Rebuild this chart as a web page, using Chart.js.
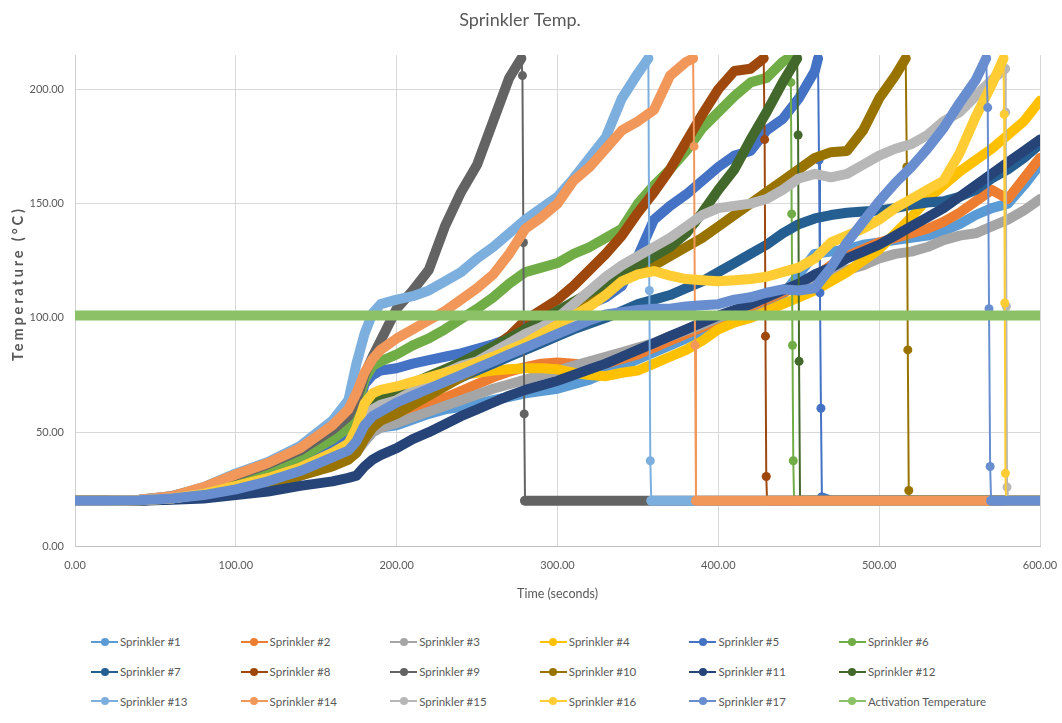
<!DOCTYPE html>
<html>
<head>
<meta charset="utf-8">
<title>Sprinkler Temp.</title>
<script src="https://cdn.jsdelivr.net/npm/chart.js@4.4.1/dist/chart.umd.min.js"></script>
<style>
  html, body { margin: 0; padding: 0; background: #ffffff; }
  #frame { position: relative; width: 1062px; height: 723px; overflow: hidden; }
  #chart { position: absolute; left: 0; top: 0; }
  #legend { position: absolute; left: 91px; top: 627px; display: grid;
            grid-template-columns: repeat(6, 149.6px); grid-auto-rows: 29.7px; }
  .key { display: flex; align-items: center; font: 11.5px Lato, 'Open Sans', sans-serif;
         color: #595959; white-space: nowrap; }
  .swatch { position: relative; width: 27px; height: 10px; margin-right: 2px; flex: none; }
  .swatch .ln { position: absolute; left: 0; right: 0; top: 4px; height: 2px; }
  .swatch .dot { position: absolute; left: 9.5px; top: 1px; width: 8px; height: 8px; border-radius: 50%; }
</style>
</head>
<body>
<div id="frame">
  <canvas id="chart" width="1062" height="612"></canvas>
  <div id="legend"></div>
</div>
<script>
// Sample times (s) shared by every sprinkler trace
const TIME = [0, 20, 40, 60, 80, 100, 120, 140, 160, 170, 175, 180, 185, 190,
  200, 210, 220, 230, 240, 250, 260, 270, 280, 290,
  300, 310, 320, 330, 340, 350, 360, 370, 380, 390,
  400, 410, 420, 430, 440, 450, 460, 470, 480, 490,
  500, 510, 520, 530, 540, 550, 560, 570, 580, 590, 600];

// Temperatures (°C) at each sample time; null = inside the activation drop
const s1 = [20, 20, 20.1, 20.8, 22.3, 24.5, 27.5, 31.5, 36, 39, 42, 46, 50, 52,
  53, 55.5, 58, 60, 61, 62.5, 64, 65.5, 67, 68,
  69, 71, 73, 76, 79, 82, 85, 88, 91, 94,
  97, 100, 103, 106, 110, 119, 128, 129, 130, 132,
  133, 134, 135, 136, 138, 141, 145, 148, 150, 158, 167];
const s2 = [20, 20, 20.1, 20.8, 22.3, 24.5, 27.5, 31.5, 36, 39, 43, 48, 52, 54,
  56, 59, 62, 65, 68, 71, 74, 76.5, 78.5, 80,
  80.5, 80, 79, 80, 82, 84, 87, 90, 93, 96,
  99, 102, 105, 108, 111, 114, 118, 123, 127, 130,
  133, 135, 137, 139, 142, 146, 151, 156, 152, 161, 170];
const s3 = [20, 20, 20.1, 20.8, 22.2, 24.3, 27, 31, 35.5, 38.5, 41, 46, 50, 52,
  54, 56.5, 59, 61.5, 64, 66.5, 69, 71, 73, 75,
  77, 79, 81, 83, 85, 87, 89, 92, 94.5, 97,
  100, 103, 106, 109, 112, 115, 117, 119, 121, 123,
  126, 128, 129, 131, 134, 136, 137, 140, 143, 147, 152];
const s4 = [20, 20, 20.2, 21, 23, 26.5, 30, 34.5, 41, 45, 52, 62, 66, 67.5,
  69, 70.5, 72, 73.5, 75, 76, 77, 77.5, 78, 78,
  77.5, 76, 75, 74.5, 76, 77, 80, 83, 86, 90,
  95, 98, 100, 103, 106, 109, 112, 116, 120, 125,
  130, 137, 144, 152, 158, 164, 169, 174, 180, 186, 195];
const s5 = [20, 20, 20.2, 21, 23.5, 27, 31, 36, 43, 47, 57, 71, 75, 77,
  78, 80, 81.5, 83, 84.5, 86.5, 88.5, 91, 94, 97,
  100, 103, 106, 109, 114, 127, 143, 149, 154, 160,
  166, 171, 173, 182, 187, 196, 208, 20, 20, 20,
  20, 20, 20, 20, 20, 20, 20, 20, 20, 20, 20];
const s6 = [20, 20, 20.3, 21.5, 24.5, 29, 33.5, 39, 47, 52, 60, 73, 79, 81,
  84, 88, 91, 95, 99.5, 104, 109, 115, 120, 122,
  124, 128, 131, 135, 139, 150, 158, 165, 173, 183,
  190, 197, 203, 205, 212, 20, 20, 20, 20, 20,
  20, 20, 20, 20, 20, 20, 20, 20, 20, 20, 20];
const s7 = [20, 20, 20.2, 21, 22.8, 26, 29, 33, 39, 42, 47, 55, 59, 61,
  62, 65, 68, 71, 74, 77, 80, 83, 86, 89,
  92, 95, 97.5, 100, 103, 106, 108, 110, 113, 116,
  120, 124, 128, 132, 137, 141, 143.5, 145, 146, 146.5,
  147, 148, 149.5, 150.5, 151, 153, 156, 161, 165, 170, 176];
const s8 = [20, 20, 20.2, 21, 23, 26, 29.5, 34, 40, 43, 49, 57, 61, 63,
  66, 69, 72, 75, 79, 83, 87, 92, 99, 103.5,
  108, 114, 121, 128, 136, 146, 155, 165, 177, 189,
  200, 208, 209, null, 20, 20, 20, 20, 20, 20,
  20, 20, 20, 20, 20, 20, 20, 20, 20, 20, 20];
const s9 = [20, 20, 20.5, 22, 25.5, 31, 36, 42, 51, 57, 64, 75, 83, 90,
  104, 112, 121, 140, 155, 167, 186, 205, 20, 20,
  20, 20, 20, 20, 20, 20, 20, 20, 20, 20,
  20, 20, 20, 20, 20, 20, 20, 20, 20, 20,
  20, 20, 20, 20, 20, 20, 20, 20, 20, 20, 20];
const s10 = [20, 20, 20.1, 20.8, 22, 24, 27, 31, 35, 38, 41, 47, 52, 55,
  58, 62, 66, 70, 74, 78, 82, 87, 91, 95,
  100, 104, 108, 112, 117, 120, 123, 127, 131, 135,
  140, 145, 150, 155, 160, 165, 170, 172.5, 173, 182,
  196, 206, 20, 20, 20, 20, 20, 20, 20, 20, 20];
const s11 = [20, 20, 20, 20.5, 21, 22.5, 24, 26.5, 28.5, 30, 31, 35, 38, 40,
  43, 47, 50, 53.5, 57, 60, 63, 66, 68.5, 70.5,
  72.5, 75, 77.5, 80, 83, 86, 89, 92, 95, 98,
  101, 103.5, 106, 109, 112, 115, 119, 122, 126, 129,
  132, 136, 140, 144, 148, 153, 158, 163, 168, 173, 178];
const s12 = [20, 20, 20.2, 21, 23, 26.5, 30, 34.5, 40.5, 44, 51, 60, 64, 66,
  68.5, 71.5, 74.5, 77.5, 80.5, 84, 87.5, 91, 95, 99,
  103, 107, 111, 115, 119, 123, 127, 131, 137, 146,
  156, 165, 178, 190, 203, null, 20, 20, 20, 20,
  20, 20, 20, 20, 20, 20, 20, 20, 20, 20, 20];
const s13 = [20, 20, 20.5, 22, 26, 32, 37, 44, 55, 64, 80, 93, 102, 106,
  108, 109.5, 112, 116, 120, 126, 131, 137, 143, 148,
  153, 161, 170, 179, 196, 207, 20, 20, 20, 20,
  20, 20, 20, 20, 20, 20, 20, 20, 20, 20,
  20, 20, 20, 20, 20, 20, 20, 20, 20, 20, 20];
const s14 = [20, 20, 20.5, 22, 26, 31.5, 36.5, 43, 53, 60, 67, 76, 82, 86,
  91, 95, 99, 103, 108, 113, 119, 128, 139, 144,
  150, 160, 166, 174, 182, 186, 191, 206, 212, 20,
  20, 20, 20, 20, 20, 20, 20, 20, 20, 20,
  20, 20, 20, 20, 20, 20, 20, 20, 20, 20, 20];
const s15 = [20, 20, 20.2, 21, 23, 26, 29.5, 34, 39.5, 43, 48, 56, 60, 62,
  64, 68, 72, 76, 79, 81, 85, 89, 93, 96,
  100, 106, 112, 118, 123, 127, 131, 135, 140, 145,
  148, 149, 150, 152, 156, 161, 163, 161.5, 163, 167,
  171, 174, 176, 180, 186, 190, 197, 204, 20, 20, 20];
const s16 = [20, 20, 20.2, 21, 23, 26.5, 30, 34.5, 41, 45, 52, 62.5, 67, 68.5,
  70, 72, 74, 76, 78, 80.5, 83, 86, 89, 93,
  97, 101, 105, 110, 116, 119, 120.5, 118.5, 117, 116.5,
  116, 116.5, 117, 118, 120, 122, 126, 133, 136, 139,
  143, 148, 152, 156, 160, 172, 188, 202, 20, 20, 20];
const s17 = [20, 20, 20.2, 21, 22.5, 25, 28.5, 33, 39, 42, 46, 53, 57, 59,
  63, 66, 69, 72, 75, 78, 81, 84, 87, 90,
  93, 96, 99, 101.5, 102.5, 103.5, 104, 104, 105, 105.5,
  106, 108, 109, 111, 112.5, 112, 113, 122, 133, 142,
  151, 159, 166, 174, 183, 194, 204, 20, 20, 20, 20];

// Activation drops: [time, temperature] readings from peak down to ambient
const d5 = [[462, 213.5], [462.6, 169], [463.2, 111], [463.8, 60.5], [464.4, 21.5]];
const d6 = [[444.5, 214], [445.1, 203], [445.6, 145.5], [446.1, 88], [446.6, 37.5], [447.1, 20]];
const d8 = [[428.2, 213.5], [428.8, 178], [429.3, 92], [429.8, 30.6], [430.3, 20]];
const d9 = [[277.5, 213.5], [278.2, 206], [278.8, 133], [279.3, 58], [279.8, 20]];
const d10 = [[516.5, 213.5], [517.2, 166], [517.8, 86], [518.4, 24.5], [519, 20]];
const d12 = [[449, 213.5], [449.6, 180], [450.2, 81], [450.8, 20]];
const d13 = [[356.5, 213.5], [357.1, 112], [357.7, 37.5], [358.3, 20]];
const d14 = [[384.3, 213.5], [384.9, 175], [385.5, 88], [386.1, 20]];
const d15 = [[578.3, 209], [578.7, 190], [579.1, 105], [579.5, 26], [579.9, 20]];
const d16 = [[577.3, 213.5], [577.7, 189], [578.1, 106.5], [578.5, 32], [578.9, 20]];
const d17 = [[566.5, 213.5], [567.5, 192], [568.3, 104], [569, 35], [569.6, 20]];

// Activation threshold line
const ACT_TIME = [0, 600];
const ACT_TEMP = [101, 101];

// Axis ticks
const X_TICKS = [0, 100, 200, 300, 400, 500, 600];
const Y_TICKS = [0, 50, 100, 150, 200];

const NAMES = ['Sprinkler #1', 'Sprinkler #2', 'Sprinkler #3', 'Sprinkler #4', 'Sprinkler #5',
  'Sprinkler #6', 'Sprinkler #7', 'Sprinkler #8', 'Sprinkler #9', 'Sprinkler #10',
  'Sprinkler #11', 'Sprinkler #12', 'Sprinkler #13', 'Sprinkler #14', 'Sprinkler #15',
  'Sprinkler #16', 'Sprinkler #17', 'Activation Temperature'];
const SERIES = [s1, s2, s3, s4, s5, s6, s7, s8, s9, s10, s11, s12, s13, s14, s15, s16, s17];
const DROPS = [null, null, null, null, d5, d6, null, d8, d9, d10, null, d12, d13, d14, d15, d16, d17];

const COLORS = ['#5B9BD5', '#ED7D31', '#A5A5A5', '#FFC000', '#4472C4', '#70AD47',
  '#255E91', '#9E480E', '#636363', '#997300', '#264478', '#43682B',
  '#7CAFDD', '#F1975A', '#B7B7B7', '#FFCD33', '#698ED0', '#8CC168'];

const FONT = "Lato, 'Open Sans', sans-serif";
const TEXT = '#595959';
const THICK = 10, THIN = 2;
const Y_TITLE = 'Temperature (°C)';

function toPoints(vals, drop) {
  const pts = [];
  TIME.forEach((t, i) => { if (vals[i] !== null) pts.push({ x: t, y: vals[i] }); });
  (drop || []).forEach(([t, v]) => pts.push({ x: t, y: v, marker: true }));
  return pts.sort((a, b) => a.x - b.x);
}

// thin stroke for the near-vertical fall after a sprinkler activates
const segWidth = c => (c.p1.parsed.x - c.p0.parsed.x < 1.5 &&
  Math.abs(c.p1.parsed.y - c.p0.parsed.y) > 2) ? THIN : THICK;

const datasets = SERIES.map((vals, i) => ({
  label: NAMES[i],
  data: toPoints(vals, DROPS[i]),
  borderColor: COLORS[i],
  backgroundColor: COLORS[i],
  borderWidth: THICK,
  borderCapStyle: 'round',
  borderJoinStyle: 'round',
  pointRadius: c => (c.raw && c.raw.marker) ? 4.5 : 0,
  pointBackgroundColor: COLORS[i],
  pointBorderWidth: 0,
  pointHoverRadius: 0,
  segment: { borderWidth: segWidth },
  fill: false,
  tension: 0,
  order: SERIES.length - i
}));
datasets.push({
  label: NAMES[17],
  data: ACT_TIME.map((t, i) => ({ x: t, y: ACT_TEMP[i] })),
  borderColor: COLORS[17],
  backgroundColor: COLORS[17],
  borderWidth: THICK,
  borderCapStyle: 'round',
  pointRadius: 0,
  fill: false,
  order: 0
});

// Vertical axis title, spread along the left edge of the plot
const yTitle = {
  id: 'yTitle',
  afterDraw(chart) {
    const ctx = chart.ctx;
    ctx.save();
    ctx.translate(18, 285);
    ctx.rotate(-Math.PI / 2);
    ctx.font = `bold 14.5px ${FONT}`;
    ctx.fillStyle = TEXT;
    ctx.textAlign = 'center';
    ctx.textBaseline = 'middle';
    const natural = ctx.measureText(Y_TITLE).width;
    const gap = Math.max(0, (152 - natural) / (Y_TITLE.length - 1));
    ctx.letterSpacing = gap.toFixed(2) + 'px';
    ctx.fillText(Y_TITLE, gap / 2, 0);
    ctx.restore();
  }
};

new Chart(document.getElementById('chart'), {
  type: 'line',
  data: { datasets },
  plugins: [yTitle],
  options: {
    responsive: false,
    animation: false,
    events: [],
    layout: { padding: { left: 0, right: 22, top: 9, bottom: 0 } },
    plugins: {
      legend: { display: false },
      tooltip: { enabled: false },
      title: {
        display: true, text: 'Sprinkler Temp.', color: TEXT,
        font: { family: FONT, size: 18, weight: 'normal' },
        padding: { top: 0, bottom: 24.4 }
      }
    },
    scales: {
      x: {
        type: 'linear', min: 0, max: 600,
        afterBuildTicks: s => { s.ticks = X_TICKS.map(v => ({ value: v })); },
        afterFit: s => { s.height = 65.5; s.paddingLeft = 0; s.paddingRight = 0; },
        ticks: { callback: v => Number(v).toFixed(2), color: TEXT, padding: 12,
                 font: { family: FONT, size: 11 }, maxRotation: 0, autoSkip: false },
        grid: { color: '#d9d9d9', lineWidth: 1, drawTicks: false },
        border: { color: '#bfbfbf', width: 1 },
        title: { display: true, text: 'Time (seconds)', color: TEXT,
                 font: { family: FONT, size: 12.5 }, padding: { top: 0, bottom: 11 } }
      },
      y: {
        min: 0, max: 215,
        afterBuildTicks: s => { s.ticks = Y_TICKS.map(v => ({ value: v })); },
        afterFit: s => { s.width = 75; s.paddingTop = 0; s.paddingBottom = 0; },
        ticks: { callback: v => Number(v).toFixed(2), color: TEXT, padding: 11,
                 font: { family: FONT, size: 11 } },
        grid: { color: '#d9d9d9', lineWidth: 1, drawTicks: false },
        border: { color: '#d0d0d0', width: 1 },
        title: { display: false }
      }
    }
  }
});

// Legend: six columns, line-and-marker key per series
const legend = document.getElementById('legend');
NAMES.forEach((name, i) => {
  const key = document.createElement('div');
  key.className = 'key';
  const sw = document.createElement('span');
  sw.className = 'swatch';
  const ln = document.createElement('span');
  ln.className = 'ln';
  ln.style.background = COLORS[i];
  const dot = document.createElement('span');
  dot.className = 'dot';
  dot.style.background = COLORS[i];
  sw.appendChild(ln);
  sw.appendChild(dot);
  key.appendChild(sw);
  key.appendChild(document.createTextNode(name));
  legend.appendChild(key);
});
</script>
</body>
</html>
